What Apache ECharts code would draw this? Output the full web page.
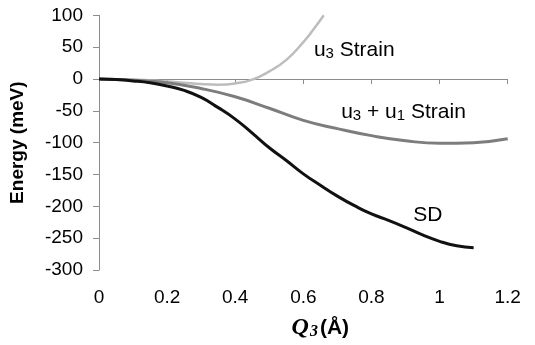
<!DOCTYPE html>
<html>
<head>
<meta charset="utf-8">
<script src="https://cdn.jsdelivr.net/npm/echarts@6/dist/echarts.min.js"></script>
<style>
html,body{margin:0;padding:0;background:#fff;}
#c{width:535px;height:345px;}
</style>
</head>
<body>
<div id="c"></div>
<script>
// Data
var sdX = [0,0.05,0.1,0.15,0.2,0.25,0.3,0.35,0.4,0.45,0.5,0.55,0.6,0.65,0.7,0.75,0.8,0.85,0.9,0.95,1.0,1.05,1.1];
var sdY = [0,-1,-3,-6,-11,-18,-29,-45,-63,-85,-108,-128,-149,-167,-184,-199,-212,-222,-233,-245,-255,-262,-265];
var u31X = [0,0.1,0.2,0.3,0.4,0.5,0.6,0.7,0.8,0.9,1.0,1.1,1.2];
var u31Y = [0,-2,-6,-15,-28,-46,-65,-78,-89,-97,-101,-100,-94];
var u3X = [0,0.1,0.2,0.25,0.3,0.35,0.4,0.45,0.5,0.55,0.6,0.63,0.66];
var u3Y = [0,-1,-4,-6,-8,-9,-7,-1,12,30,58,78,100];
var xTicks = [0,0.2,0.4,0.6,0.8,1,1.2];
var yTicks = [-300,-250,-200,-150,-100,-50,0,50,100];
var labelNames = ['u3 Strain','u3 + u1 Strain','SD'];
var labelX = [0.631,0.711,0.923];
var labelY = [45,-52.7,-214];

function pairs(xs, ys){ return xs.map(function(x,i){return [x, ys[i]];}); }

var chart = echarts.init(document.getElementById('c'), null, {renderer:'canvas'});
var F = '"Liberation Sans", Arial, sans-serif';
var SERIF = '"Liberation Serif", "Times New Roman", serif';
var rich = {
  n:{fontFamily:F,fontSize:21,color:'#000',lineHeight:22},
  s:{fontFamily:F,fontSize:15,color:'#000',lineHeight:22,verticalAlign:'bottom',padding:[6,0,0,0]}
};
function fmtLabel(t){
  return t.replace(/u(\d)/g, function(m,d){return '{n|u}{s|'+d+'}';})
          .replace(/(^|\})([^{]+?)(?=\{|$)/g, function(m,a,b){return a+'{n|'+b+'}';});
}
var labelData = labelNames.map(function(n,i){return {value:[labelX[i],labelY[i]], name:n};});

chart.setOption({
  animation:false,
  backgroundColor:'#fff',
  grid:{left:97.7,right:27.3,top:15.3,bottom:71.7,containLabel:false},
  xAxis:{
    type:'value',min:0,max:1.2,interval:0.2,
    axisLine:{lineStyle:{color:'#8c8c8c',width:1}},
    axisTick:{show:true,length:5,lineStyle:{color:'#8c8c8c'}},
    splitLine:{show:false},
    axisLabel:{fontFamily:F,fontSize:19,color:'#000',margin:18,
      formatter:function(v){return xTicks.indexOf(Math.round(v*10)/10)>=0 ? String(Math.round(v*10)/10) : '';}},
    name:'{q|Q}{s|3}{a|(Å)}',
    nameLocation:'middle',nameGap:46,
    nameTextStyle:{rich:{
      q:{fontFamily:SERIF,fontStyle:'italic',fontWeight:'bold',fontSize:24,color:'#000',lineHeight:24,padding:[0,0,0,34]},
      s:{fontFamily:SERIF,fontStyle:'italic',fontWeight:'bold',fontSize:16,color:'#000',lineHeight:24,verticalAlign:'bottom',padding:[6,2,0,1]},
      a:{fontFamily:F,fontWeight:'bold',fontSize:21,color:'#000',lineHeight:24}
    }}
  },
  yAxis:{
    type:'value',min:-300,max:100,interval:50,
    axisLine:{show:true,lineStyle:{color:'#8c8c8c',width:1}},
    axisTick:{show:true,length:6,lineStyle:{color:'#8c8c8c'}},
    splitLine:{show:false},
    axisLabel:{fontFamily:F,fontSize:19,color:'#000',margin:16,
      formatter:function(v){return yTicks.indexOf(v)>=0 ? String(v) : '';}},
    name:'Energy (meV)',nameLocation:'middle',nameGap:72,nameRotate:90,
    nameTextStyle:{fontFamily:F,fontWeight:'bold',fontSize:19,color:'#000'}
  },
  series:[
    {type:'line',name:'u3 Strain',data:pairs(u3X,u3Y),smooth:true,showSymbol:false,
      lineStyle:{color:'#bdbdbd',width:2.5},clip:true,z:2},
    {type:'line',name:'u3 + u1 Strain',data:pairs(u31X,u31Y),smooth:true,showSymbol:false,
      lineStyle:{color:'#7d7d7d',width:3},z:3},
    {type:'line',name:'SD',data:pairs(sdX,sdY),smooth:true,showSymbol:false,
      lineStyle:{color:'#111',width:3},z:4},
    {type:'scatter',name:'labels',data:labelData,symbolSize:0,silent:true,
      itemStyle:{color:'#000',opacity:1},
      label:{show:true,position:'right',distance:0,color:'#000',opacity:1,
        formatter:function(p){return fmtLabel(p.name);},rich:rich}}
  ]
});
</script>
</body>
</html>
